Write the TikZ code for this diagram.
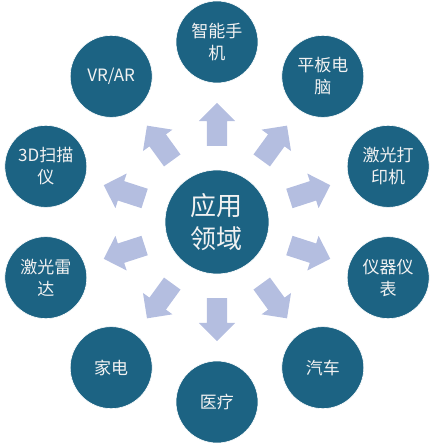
\documentclass[tikz,border=0pt]{standalone}
\usepackage{fontspec}
\newfontfamily\cjk{Noto Sans CJK SC}
\usepackage{xcolor}
\usepackage{tikz}
\usetikzlibrary{shapes,shapes.arrows}
\definecolor{tealblue}{RGB}{28,99,131}
\definecolor{lavender}{RGB}{180,190,224}
\definecolor{softwhite}{RGB}{242,242,242}
\tikzset{
  app/.style={circle, fill=tealblue, draw=white, line width=0.6pt, minimum size=82pt, inner sep=0pt,
    text=softwhite, align=center, font=\cjk\fontsize{17}{22}\selectfont},
  core/.style={circle, fill=tealblue, draw=white, line width=0.6pt, minimum size=104pt, inner sep=0pt,
    text=softwhite, align=center, font=\cjk\fontsize{26}{33}\selectfont},
  blockarrow/.style={single arrow, fill=lavender, draw=none, inner xsep=0pt, inner ysep=10pt,
    minimum width=36pt, minimum height=43pt, single arrow head extend=8pt}
}
\begin{document}
\begin{tikzpicture}[x=1pt, y=1pt]
 \useasboundingbox (-217,-225) rectangle (216,222);
 %core
 \node[core] (core) at (0,0) {应用\\领域};

 %arrows
 \node[blockarrow, rotate=90] (a1) at (90:92.5) {};
 \node[blockarrow, rotate=54] (a2) at (54:92.5) {};
 \node[blockarrow, rotate=18] (a3) at (18:92.5) {};
 \node[blockarrow, rotate=-18] (a4) at (-18:92.5) {};
 \node[blockarrow, rotate=-54] (a5) at (-54:92.5) {};
 \node[blockarrow, rotate=-90] (a6) at (-90:92.5) {};
 \node[blockarrow, rotate=-126] (a7) at (-126:92.5) {};
 \node[blockarrow, rotate=-162] (a8) at (-162:92.5) {};
 \node[blockarrow, rotate=162] (a9) at (162:92.5) {};
 \node[blockarrow, rotate=126] (a10) at (126:92.5) {};

 %fields
 \node[app] (phone) at (90:180) {智能手\\机};
 \node[app] (tablet) at (54:180) {平板电\\脑};
 \node[app] (printer) at (18:180) {激光打\\印机};
 \node[app] (meter) at (-18:180) {仪器仪\\表};
 \node[app] (car) at (-54:180) {汽车};
 \node[app] (medical) at (-90:180) {医疗};
 \node[app] (home) at (-126:180) {家电};
 \node[app] (lidar) at (-162:180) {激光雷\\达};
 \node[app] (scanner) at (162:180) {3D扫描\\仪};
 \node[app] (vrar) at (126:180) {VR/AR};
\end{tikzpicture}
\end{document}
